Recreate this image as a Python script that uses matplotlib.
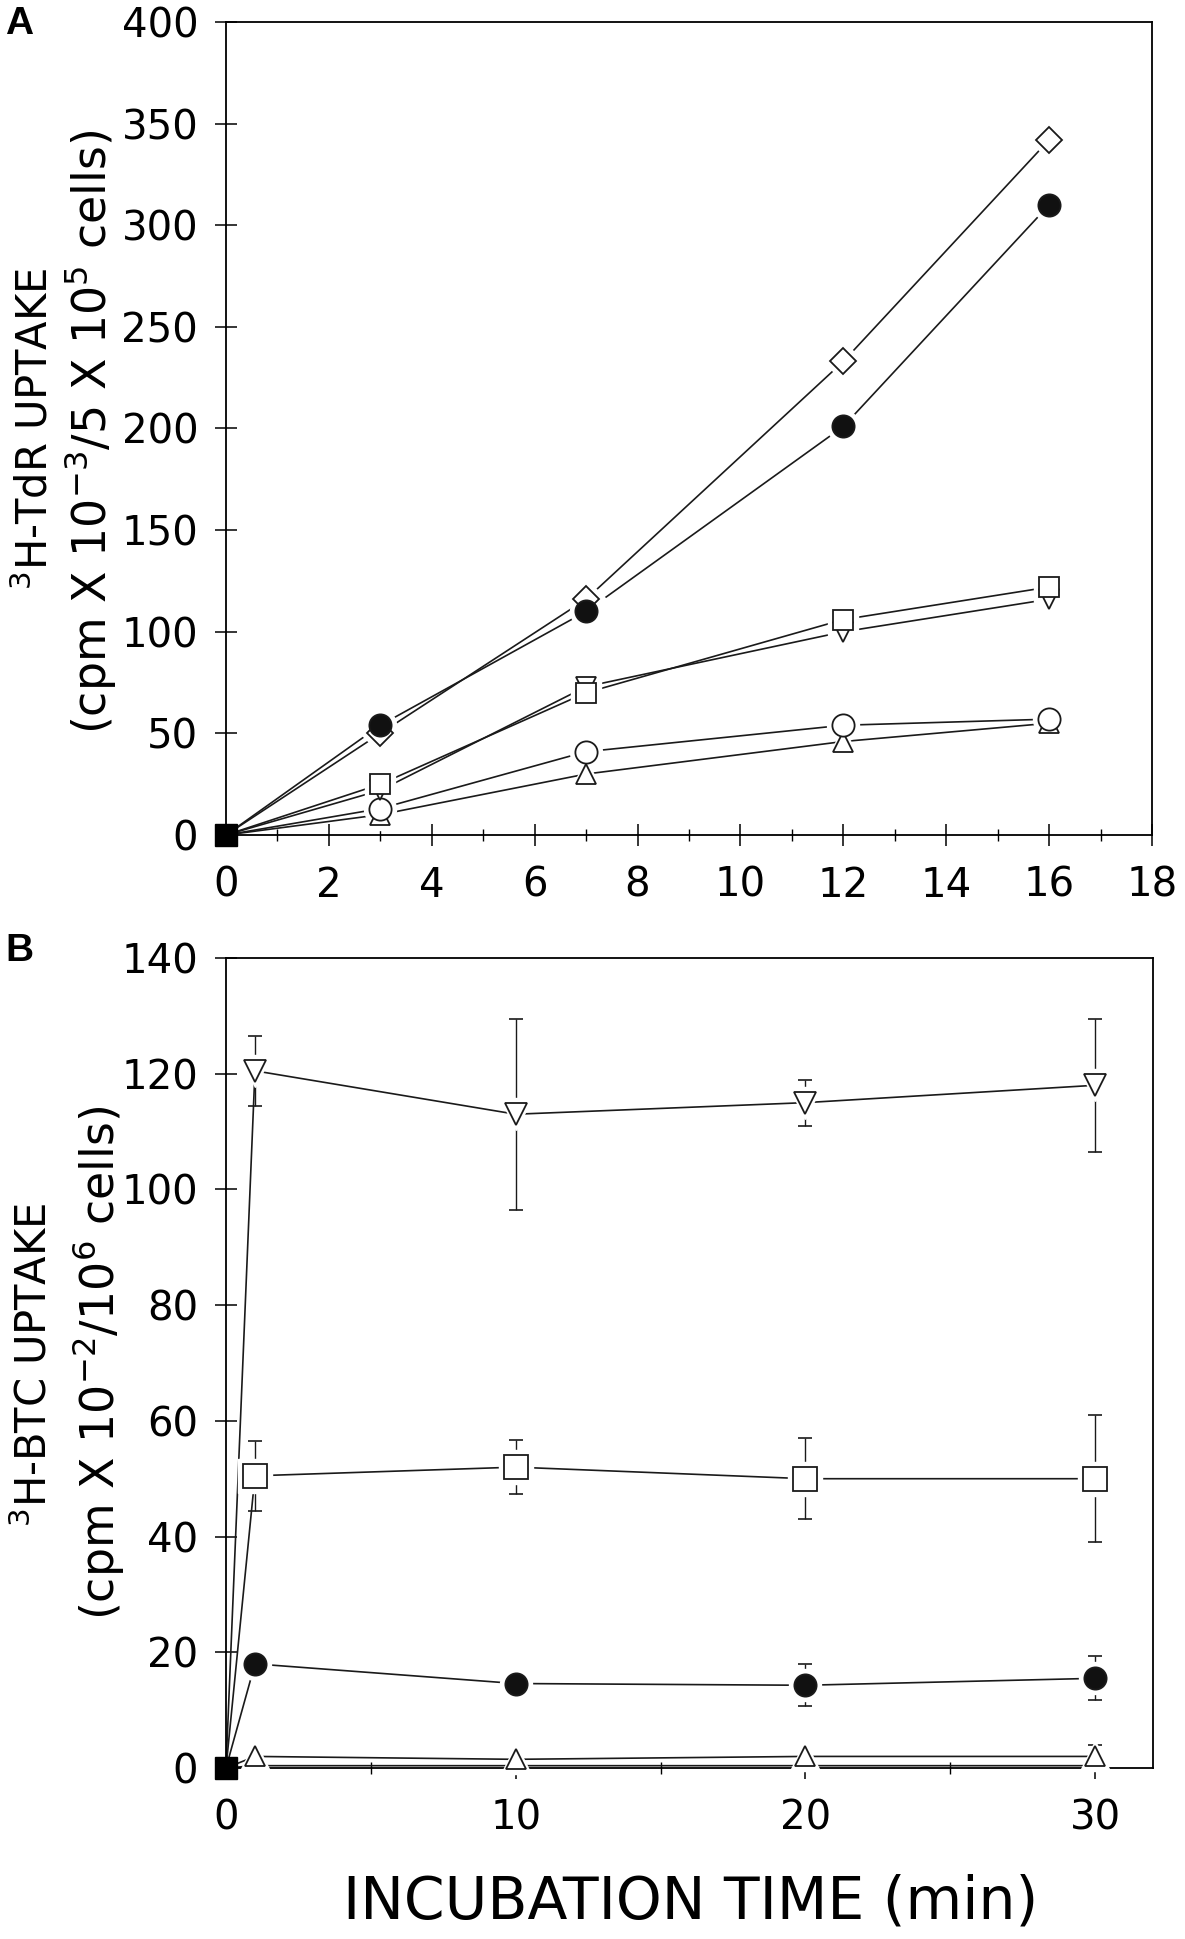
import matplotlib
matplotlib.use("Agg")
import matplotlib.pyplot as plt
from matplotlib.ticker import MultipleLocator

plt.rcParams['font.family'] = 'DejaVu Sans'
plt.rcParams['mathtext.fontset'] = 'dejavusans'

# panel A: 3H-TdR uptake vs time
time_a = [0, 3, 7, 12, 16]
tdr_diamond = [0, 50, 116, 233, 342]
tdr_filled = [0, 54, 110, 201, 310]
tdr_square = [0, 25, 70, 106, 122]
tdr_down = [0, 22, 73, 100, 116]
tdr_circle = [0, 13, 41, 54, 57]
tdr_up = [0, 10, 30, 46, 55]

# panel B: 3H-BTC uptake vs incubation time
time_b = [0, 1, 10, 20, 30]
btc_down = [0, 120.5, 113, 115, 118]
btc_down_err = [0, 6, 16.5, 4, 11.5]
btc_square = [0, 50.5, 52, 50, 50]
btc_square_err = [0, 6, 4.7, 7, 11]
btc_filled = [0, 18, 14.6, 14.3, 15.5]
btc_filled_err = [0, 0, 1.5, 3.6, 3.8]
btc_up = [0, 2, 1.5, 2, 2]
btc_up_err = [0, 0, 0, 0, 2]
btc_base = [0, 0.4, 0.4, 0.4, 0.4]

origin_x = [0]
origin_y = [0]

W, H = 1185, 1939
fig = plt.figure(figsize=(W / 100, H / 100), dpi=100)
INK = '#1a1a1a'


def style_axes(ax):
    for s in ax.spines.values():
        s.set_linewidth(1.3)
    ax.tick_params(which='major', direction='inout', length=16, width=1.1,
                   labelsize=29, pad=12)
    ax.tick_params(which='minor', direction='inout', length=9, width=1.0)
    ax.tick_params(axis='x', which='major', pad=14)


def draw_series(ax, x, y, marker, ms, fill, yerr=None):
    # line first, then a white halo (gap round the symbol), then the symbol
    ax.plot(x, y, color=INK, lw=1.2, zorder=2, clip_on=False)
    if yerr is not None:
        ax.errorbar(x, y, yerr=yerr, fmt='none', ecolor=INK, elinewidth=1.0,
                    capsize=5, capthick=1.2, zorder=2, clip_on=False)
    ax.plot(x[1:], y[1:], ls='none', marker=marker, ms=ms + 7, mfc='white',
            mec='white', zorder=3, clip_on=False)
    ax.plot(x[1:], y[1:], ls='none', marker=marker, ms=ms, mfc=fill, mec=INK,
            mew=1.3, zorder=4, clip_on=False)


# ---- panel A
axA = fig.add_axes([226 / W, 1 - 835 / H, 926 / W, 813 / H])
draw_series(axA, time_a, tdr_up, '^', 15, 'white')
draw_series(axA, time_a, tdr_circle, 'o', 16, 'white')
draw_series(axA, time_a, tdr_down, 'v', 15, 'white')
draw_series(axA, time_a, tdr_square, 's', 15, 'white')
draw_series(axA, time_a, tdr_diamond, 'D', 13, 'white')
draw_series(axA, time_a, tdr_filled, 'o', 16, '#111111')
axA.plot(origin_x, origin_y, 's', ms=16, color='black', clip_on=False, zorder=10)
axA.set_xlim(0, 18)
axA.set_ylim(0, 400)
axA.xaxis.set_major_locator(MultipleLocator(2))
axA.xaxis.set_minor_locator(MultipleLocator(1))
axA.yaxis.set_major_locator(MultipleLocator(50))
style_axes(axA)

# ---- panel B
axB = fig.add_axes([226 / W, 1 - 1768 / H, 927 / W, 810 / H])
axB.plot(time_b, btc_base, color=INK, lw=1.2, zorder=2)
draw_series(axB, time_b, btc_up, '^', 14, 'white', btc_up_err)
draw_series(axB, time_b, btc_filled, 'o', 16, '#111111', btc_filled_err)
draw_series(axB, time_b, btc_square, 's', 17, 'white', btc_square_err)
draw_series(axB, time_b, btc_down, 'v', 16, 'white', btc_down_err)
axB.plot(origin_x, origin_y, 's', ms=16, color='black', clip_on=False, zorder=10)
axB.set_xlim(0, 32)
axB.set_ylim(0, 140)
axB.xaxis.set_major_locator(MultipleLocator(10))
axB.xaxis.set_minor_locator(MultipleLocator(5))
axB.yaxis.set_major_locator(MultipleLocator(20))
style_axes(axB)

# y labels (two lines each)
fig.text(35 / W, 1 - 429 / H, r'$^{3}$H-TdR UPTAKE', rotation=90,
         ha='center', va='center', fontsize=30)
fig.text(90 / W, 1 - 432 / H, r'(cpm X 10$^{-3}$/5 X 10$^{5}$ cells)', rotation=90,
         ha='center', va='center', fontsize=33)
fig.text(34 / W, 1 - 1365 / H, r'$^{3}$H-BTC UPTAKE', rotation=90,
         ha='center', va='center', fontsize=30)
fig.text(98 / W, 1 - 1363 / H, r'(cpm X 10$^{-2}$/10$^{6}$ cells)', rotation=90,
         ha='center', va='center', fontsize=33)

fig.text(691 / W, 1 - 1902 / H, 'INCUBATION TIME (min)', ha='center', va='center',
         fontsize=42)

fig.text(5 / W, 1 - 6 / H, 'A', ha='left', va='top', fontsize=28, fontweight='bold',
         family=['Liberation Sans', 'DejaVu Sans'])
fig.text(5 / W, 1 - 933 / H, 'B', ha='left', va='top', fontsize=28, fontweight='bold',
         family=['Liberation Sans', 'DejaVu Sans'])

fig.savefig('out.png', dpi=100)
